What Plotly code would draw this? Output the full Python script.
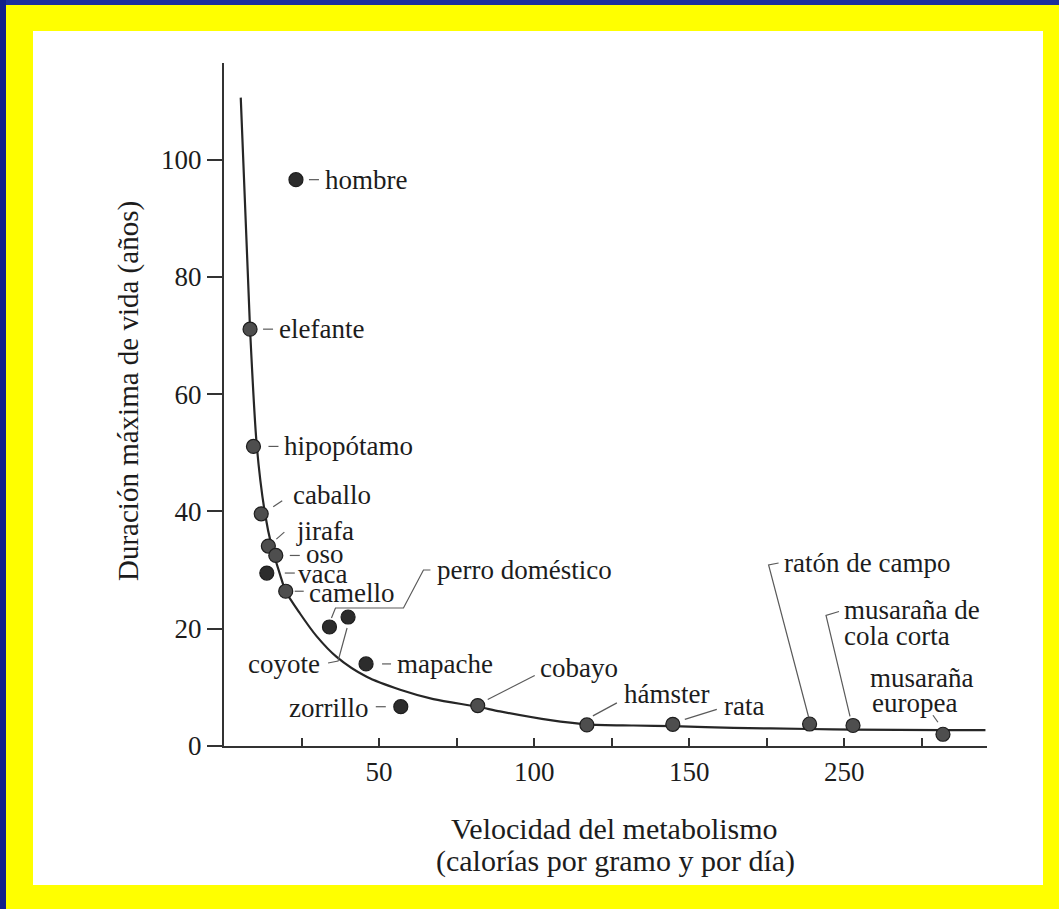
import plotly.graph_objects as go

# Animals: metabolic rate (cal per g per day) and maximum lifespan (years)
animals = ["hombre", "elefante", "hipopótamo", "caballo", "jirafa", "oso", "vaca",
           "camello", "perro doméstico", "coyote", "mapache", "zorrillo", "cobayo",
           "hámster", "rata", "ratón de campo", "musaraña de cola corta",
           "musaraña europea"]
metabolism = [23.2, 8.4, 9.5, 12.0, 14.3, 16.7, 13.8, 19.9, 34.0, 40.0, 45.8, 57.0,
              81.8, 117.0, 144.7, 188.8, 202.8, 231.8]
lifespan = [96.6, 71.1, 51.1, 39.6, 34.1, 32.5, 29.5, 26.4, 20.3, 22.0, 14.0, 6.7,
            6.9, 3.6, 3.7, 3.75, 3.5, 2.0]
off_curve = ["hombre", "vaca", "perro doméstico", "coyote", "mapache", "zorrillo"]

# hand-drawn trend curve
curve_x = [5.4, 8.4, 10.6, 13.2, 15.4, 18.1, 19.9, 24.5, 29.9, 36.3, 46.0, 56.8,
           67.5, 81.8, 89.0, 105.2, 117.0, 132.0, 144.7, 164.3, 188.8, 202.8,
           231.8, 245.5]
curve_y = [110.6, 71.1, 51.0, 39.7, 34.0, 29.2, 26.4, 22.6, 18.7, 15.2, 11.8, 9.6,
           8.0, 6.7, 5.9, 4.4, 3.7, 3.5, 3.4, 3.1, 2.9, 2.8, 2.7, 2.7]

y_ticks = [0, 20, 40, 60, 80, 100]
x_ticks = [25, 50, 75, 100, 125, 150, 175, 200, 225]
x_ticktext = ["", "50", "", "100", "", "150", "", "250", ""]

# label placement: text lines (dx, dy, anchor) and leader path, pixels from the point
labels = {
    "hombre": ([("hombre", 27, 0, "left")], "M 13,0 L 23,0"),
    "elefante": ([("elefante", 27, 0, "left")], "M 13,0 L 23,0"),
    "hipopótamo": ([("hipopótamo", 29, 0, "left")], "M 15,0 L 25,0"),
    "caballo": ([("caballo", 30, 19, "left")], "M 12,7 L 21,13"),
    "jirafa": ([("jirafa", 26, 15, "left")], "M 8,7 L 16,14"),
    "oso": ([("oso", 28, 1, "left")], "M 14,0 L 24,0"),
    "vaca": ([("vaca", 29, -1, "left")], "M 18,0 L 28,0"),
    "camello": ([("camello", 21, -2, "left")], "M 9,0 L 18,0"),
    "perro doméstico": ([("perro doméstico", 106, 57, "left")],
                        "M 2,9 L 6,19 L 74,19 L 94,57 L 101,57"),
    "coyote": ([("coyote", -26, -47, "right")], "M -1,-11 L -10,-44 L -20,-46"),
    "mapache": ([("mapache", 29, 0, "left")], "M 16,0 L 25,0"),
    "zorrillo": ([("zorrillo", -31, -1, "right")], "M -25,0 L -15,0"),
    "cobayo": ([("cobayo", 60, 38, "left")], "M 10,6 L 57,30"),
    "hámster": ([("hámster", 35, 31, "left")], "M 6,9 L 30,22"),
    "rata": ([("rata", 49, 18, "left")], "M 12,5 L 44,15"),
    "ratón de campo": ([("ratón de campo", -28, 161, "left")],
                       "M -1,7 L -41,159 L -31,161"),
    "musaraña de cola corta": ([("musaraña de", -11, 115, "left"),
                                ("cola corta", -11, 89, "left")],
                               "M -3,9 L -27,110 L -14,114"),
    "musaraña europea": ([("musaraña", -75, 56, "left"),
                          ("europea", -73, 31, "left")],
                         "M -10,19 L -5,12"),
}

W, H = 1059, 909
L, R, T, B = 224, 72, 63, 163
PW, PH = W - L - R, H - T - B


def px(v):
    return (v - L) / PW


def py(v):
    return (H - B - v) / PH


FONT = "Liberation Serif"
INK = "#1c1c1c"

fig = go.Figure()

fig.add_trace(go.Scatter(
    x=curve_x, y=curve_y, mode="lines",
    line=dict(color="#262626", width=2.2, shape="spline", smoothing=0.8),
    hoverinfo="skip", showlegend=False,
))

colors = ["#2c2c2c" if a in off_curve else "#4e4e4e" for a in animals]
fig.add_trace(go.Scatter(
    x=metabolism, y=lifespan, mode="markers", text=animals,
    marker=dict(size=14, color=colors, line=dict(color="#1e1e1e", width=1.2)),
    hovertemplate="%{text}: %{x}, %{y}<extra></extra>", showlegend=False,
))

shapes = [
    dict(type="rect", xref="paper", yref="paper", x0=px(0), x1=px(W), y0=py(5), y1=py(0),
         fillcolor="#1d2f9c", line_width=0, layer="below"),
    dict(type="rect", xref="paper", yref="paper", x0=px(0), x1=px(6), y0=py(H), y1=py(0),
         fillcolor="#13208a", line_width=0, layer="below"),
    dict(type="rect", xref="paper", yref="paper", x0=px(33), x1=px(1043), y0=py(885), y1=py(31),
         fillcolor="white", line_width=0, layer="below"),
]

annotations = []
for name, xv, yv in zip(animals, metabolism, lifespan):
    lines, path = labels[name]
    shapes.append(dict(
        type="path", xref="x", yref="y", xsizemode="pixel", ysizemode="pixel",
        xanchor=xv, yanchor=yv, path=path, line=dict(color="#5a5a5a", width=1.2),
    ))
    for txt, dx, dy, anchor in lines:
        annotations.append(dict(
            x=xv, y=yv, xref="x", yref="y", text=txt, showarrow=False,
            xanchor=anchor, yanchor="middle", xshift=dx, yshift=dy,
            font=dict(family=FONT, size=27, color=INK),
        ))

# axis titles
annotations += [
    dict(x=px(128), y=py(391), xref="paper", yref="paper", textangle=-90,
         xanchor="center", yanchor="middle",
         text="Duración máxima de vida (años)", showarrow=False,
         font=dict(family=FONT, size=29, color=INK)),
    dict(x=px(614), y=py(828), xref="paper", yref="paper",
         xanchor="center", yanchor="middle",
         text="Velocidad del metabolismo", showarrow=False,
         font=dict(family=FONT, size=30, color=INK)),
    dict(x=px(615), y=py(861), xref="paper", yref="paper",
         xanchor="center", yanchor="middle",
         text="(calorías por gramo y por día)", showarrow=False,
         font=dict(family=FONT, size=30, color=INK)),
]

fig.update_layout(
    width=W, height=H,
    margin=dict(l=L, r=R, t=T, b=B),
    paper_bgcolor="#ffff00",
    plot_bgcolor="white",
    shapes=shapes,
    annotations=annotations,
    font=dict(family=FONT, size=27, color=INK),
)

fig.update_xaxes(
    range=[0, 246], showgrid=False, zeroline=False,
    showline=True, linecolor="#333333", linewidth=2,
    ticks="inside", ticklen=8, tickwidth=1.5, tickcolor="#333333",
    tickvals=x_ticks, ticktext=x_ticktext, ticklabelstandoff=1,
    tickfont=dict(family=FONT, size=27, color=INK),
)
fig.update_yaxes(
    range=[0, 116.5], showgrid=False, zeroline=False,
    showline=True, linecolor="#333333", linewidth=2,
    ticks="outside", ticklen=15, tickwidth=1.5, tickcolor="#333333",
    tickvals=y_ticks, ticklabelstandoff=0,
    tickfont=dict(family=FONT, size=27, color=INK),
)

fig.write_html("out.html", config={"displayModeBar": False},
               post_script="document.body.style.margin='0';")
